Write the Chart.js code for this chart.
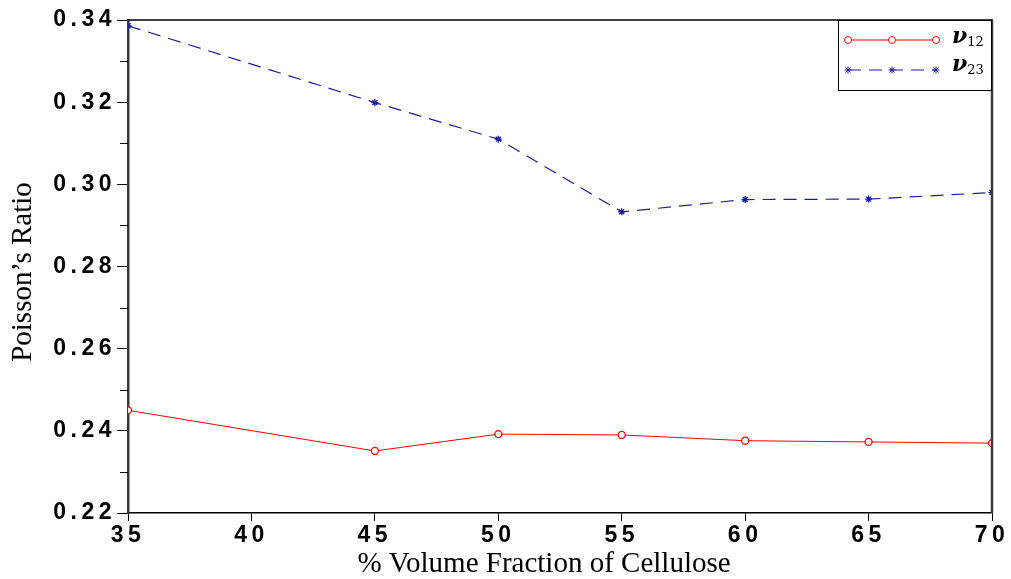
<!DOCTYPE html>
<html>
<head>
<meta charset="utf-8">
<script src="https://cdn.jsdelivr.net/npm/chart.js@4.4.0/dist/chart.umd.min.js"></script>
<style>
  html, body { margin: 0; padding: 0; background: #fff; }
  #wrap { width: 1011px; height: 579px; }
</style>
</head>
<body>
<div id="wrap"><canvas id="poissonChart" width="1011" height="579"></canvas></div>
<script>
// data
const volumeFraction = [35, 45, 50, 55, 60, 65, 70];
const nu12Values = [0.2450, 0.2351, 0.2392, 0.2390, 0.2376, 0.2373, 0.2370];
const nu23Values = [0.3386, 0.3199, 0.3110, 0.2933, 0.2963, 0.2964, 0.2980];
const seriesNames = ['ν', 'ν'];
const seriesSubs = ['12', '23'];
const xTitle = '% Volume Fraction of Cellulose';
const yTitle = 'Poisson\u2019s Ratio';

const RED = '#ff0000';
const BLUE = '#1c1c9e';

function toPoints(xs, ys) {
    return xs.map((x, i) => ({ x: x, y: ys[i] }));
}

// letter spacing for the tick labels, reset before our own drawing
const spacingPlugin = {
    id: 'spacing',
    beforeDraw(chart) { chart.ctx.letterSpacing = '4.5px'; },
    afterDraw(chart) { chart.ctx.letterSpacing = '0px'; }
};

// minor ticks on y, top/right frame, titles, legend
const decorPlugin = {
    id: 'decor',
    afterDraw(chart) {
        const ctx = chart.ctx;
        const a = chart.chartArea;
        const yScale = chart.scales.y;
        ctx.save();
        ctx.letterSpacing = '0px';

        // minor y ticks
        ctx.strokeStyle = '#000';
        ctx.lineWidth = 1;
        yScale.ticks.forEach((t, i) => {
            if (i % 2 === 1) {
                const py = Math.round(yScale.getPixelForValue(t.value)) + 0.5;
                ctx.beginPath();
                ctx.moveTo(a.left - 8, py);
                ctx.lineTo(a.left, py);
                ctx.stroke();
            }
        });

        // top and right border
        ctx.strokeStyle = '#000';
        ctx.lineWidth = 1.5;
        ctx.beginPath();
        ctx.moveTo(a.left, a.top);
        ctx.lineTo(a.right + 1, a.top);
        ctx.stroke();
        ctx.strokeStyle = '#3a3a3a';
        ctx.lineWidth = 2.5;
        ctx.beginPath();
        ctx.moveTo(a.right, a.top);
        ctx.lineTo(a.right, a.bottom);
        ctx.stroke();

        // axis titles
        ctx.fillStyle = '#000';
        ctx.font = '29px "Liberation Serif"';
        ctx.textAlign = 'center';
        ctx.textBaseline = 'alphabetic';
        ctx.fillText(xTitle, 544, 572);
        ctx.save();
        ctx.translate(31, 272);
        ctx.rotate(-Math.PI / 2);
        ctx.fillText(yTitle, 0, 0);
        ctx.restore();

        // legend box
        const bx = 838.5, by = 20.5, bw = 153, bh = 70;
        ctx.fillStyle = '#fff';
        ctx.fillRect(bx, by, bw, bh);
        ctx.strokeStyle = '#000';
        ctx.lineWidth = 1;
        ctx.strokeRect(bx, by, bw, bh);

        const rows = [
            { y: 40, base: 43, color: RED, dash: [], style: 'circle', width: 1 },
            { y: 70, base: 71, color: BLUE, dash: [13, 8], style: 'star', width: 1.2 }
        ];
        rows.forEach((r, i) => {
            ctx.save();
            ctx.strokeStyle = r.color;
            ctx.lineWidth = r.width;
            ctx.setLineDash(r.dash);
            ctx.beginPath();
            ctx.moveTo(848, r.y);
            ctx.lineTo(936, r.y);
            ctx.stroke();
            ctx.restore();
            [848, 892, 936].forEach(px => {
                ctx.save();
                ctx.strokeStyle = r.color;
                ctx.fillStyle = '#fff';
                Chart.helpers.drawPoint(ctx, {
                    pointStyle: r.style, radius: 3.5, borderWidth: 1.3, rotation: 0
                }, px, r.y);
                ctx.restore();
            });
            ctx.fillStyle = '#000';
            ctx.textAlign = 'left';
            ctx.font = 'bold italic 22px "DejaVu Serif"';
            ctx.fillText(seriesNames[i], 952, r.base);
            const w = ctx.measureText(seriesNames[i]).width;
            ctx.font = '13px "DejaVu Serif"';
            ctx.fillText(seriesSubs[i], 952 + w, r.base + 3);
        });
        ctx.restore();
    }
};

const ctx = document.getElementById('poissonChart').getContext('2d');
new Chart(ctx, {
    type: 'line',
    data: {
        datasets: [{
            label: 'ν12',
            data: toPoints(volumeFraction, nu12Values),
            borderColor: RED,
            backgroundColor: '#fff',
            borderWidth: 1,
            pointStyle: 'circle',
            pointRadius: 3.5,
            pointBorderWidth: 1.3,
            pointBorderColor: RED,
            pointBackgroundColor: '#fff',
            tension: 0
        }, {
            label: 'ν23',
            data: toPoints(volumeFraction, nu23Values),
            borderColor: BLUE,
            backgroundColor: BLUE,
            borderWidth: 1.2,
            borderDash: [13, 8],
            pointStyle: 'star',
            pointRadius: 3.5,
            pointBorderWidth: 1.3,
            pointBorderColor: BLUE,
            tension: 0
        }]
    },
    options: {
        responsive: false,
        animation: false,
        devicePixelRatio: 1,
        layout: { padding: { top: 20, right: 19, left: 0, bottom: 0 } },
        plugins: {
            legend: { display: false },
            tooltip: { enabled: false }
        },
        scales: {
            x: {
                type: 'linear',
                min: 35,
                max: 70,
                afterFit(scale) { scale.height = 66; },
                border: { display: true, color: '#000', width: 1.5 },
                grid: { drawOnChartArea: false, drawTicks: true, tickLength: 8, color: '#000' },
                ticks: {
                    stepSize: 5,
                    autoSkip: false,
                    maxRotation: 0,
                    padding: 1,
                    color: '#000',
                    font: { family: 'Liberation Sans', size: 23, weight: 'bold' }
                }
            },
            y: {
                min: 0.22,
                max: 0.34,
                afterFit(scale) { scale.width = 128; },
                border: { display: true, color: '#3a3a3a', width: 2.5 },
                grid: {
                    drawOnChartArea: false,
                    drawTicks: true,
                    tickLength: 11,
                    color: c => (c.index % 2 === 0 ? '#000' : 'rgba(0,0,0,0)')
                },
                ticks: {
                    stepSize: 0.01,
                    autoSkip: false,
                    padding: 1,
                    color: '#000',
                    font: { family: 'Liberation Sans', size: 23, weight: 'bold' },
                    callback: (value, index) => (index % 2 === 0 ? value.toFixed(2) : '')
                }
            }
        }
    },
    plugins: [spacingPlugin, decorPlugin]
});
</script>
</body>
</html>
